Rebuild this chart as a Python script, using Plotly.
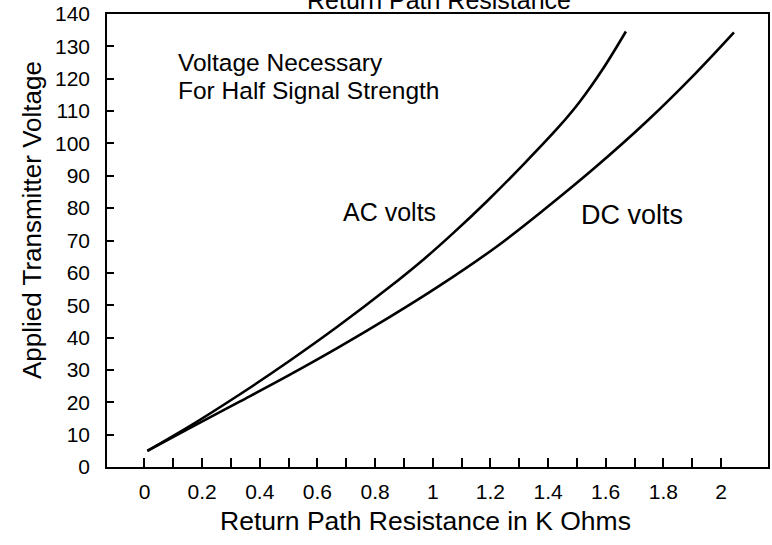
import plotly.graph_objects as go

# Data
ac_x = [0.01, 0.16, 0.33, 0.50, 0.67, 0.85, 0.97, 1.07, 1.19, 1.32, 1.44, 1.51, 1.59, 1.67]
ac_y = [5.0, 12.8, 22.4, 32.6, 43.4, 55.6, 64.3, 72.2, 82.3, 94.0, 105.4, 112.9, 123.0, 134.6]

dc_x = [0.01, 0.16, 0.33, 0.50, 0.67, 0.85, 1.02, 1.22, 1.39, 1.56, 1.74, 1.91, 2.045]
dc_y = [5.0, 12.2, 20.2, 28.3, 36.8, 46.3, 55.8, 68.0, 79.8, 92.3, 106.6, 121.5, 134.3]

x_tickvals = [0, 0.2, 0.4, 0.6, 0.8, 1.0, 1.2, 1.4, 1.6, 1.8, 2.0]
x_ticktext = ["0", "0.2", "0.4", "0.6", "0.8", "1", "1.2", "1.4", "1.6", "1.8", "2"]
x_minorvals = [0.1, 0.3, 0.5, 0.7, 0.9, 1.1, 1.3, 1.5, 1.7, 1.9]
y_tickvals = [0, 10, 20, 30, 40, 50, 60, 70, 80, 90, 100, 110, 120, 130, 140]
y_ticktext = [str(v) for v in y_tickvals]

FONT = "Liberation Sans, Arial, Helvetica, sans-serif"

fig = go.Figure()
fig.add_trace(go.Scatter(x=ac_x, y=ac_y, mode="lines", name="AC volts",
                         line=dict(color="black", width=2.6, shape="spline", smoothing=1.0)))
fig.add_trace(go.Scatter(x=dc_x, y=dc_y, mode="lines", name="DC volts",
                         line=dict(color="black", width=2.6, shape="spline", smoothing=1.0)))

fig.update_layout(
    width=772, height=545,
    margin=dict(l=107, r=2, t=14, b=78),
    paper_bgcolor="white", plot_bgcolor="white",
    showlegend=False,
    font=dict(family=FONT, color="black", size=21),
    xaxis=dict(
        range=[-0.13, 2.163], showgrid=False, zeroline=False,
        showline=True, mirror=True, linecolor="black", linewidth=1.6,
        tickmode="array", tickvals=x_tickvals, ticktext=x_ticktext,
        ticks="inside", ticklen=9, tickwidth=1.5, tickcolor="black",
        minor=dict(tickmode="array", tickvals=x_minorvals, ticks="inside",
                   ticklen=9, tickwidth=1.5, tickcolor="black", showgrid=False),
        tickfont=dict(size=21, family=FONT), ticklabelstandoff=5,
    ),
    yaxis=dict(
        range=[0, 140], showgrid=False, zeroline=False,
        showline=True, mirror=True, linecolor="black", linewidth=1.6,
        tickmode="array", tickvals=y_tickvals, ticktext=y_ticktext,
        ticks="inside", ticklen=7, tickwidth=1.5, tickcolor="black",
        tickfont=dict(size=21, family=FONT), ticklabelstandoff=11,
    ),
    annotations=[
        dict(text="Return Path Resistance", xref="paper", yref="paper",
             x=(440 - 107) / 663, y=1.03, xanchor="center", yanchor="middle",
             showarrow=False, font=dict(size=25, family=FONT)),
        dict(text="Return Path Resistance in K Ohms", xref="paper", yref="paper",
             x=(426.5 - 107) / 663, y=-0.12, xanchor="center", yanchor="middle",
             showarrow=False, font=dict(size=26.5, family=FONT)),
        dict(text="Applied Transmitter Voltage", xref="paper", yref="paper",
             x=-0.1136, y=0.545, xanchor="center", yanchor="middle", textangle=-90,
             showarrow=False, font=dict(size=26, family=FONT)),
        dict(text="Voltage Necessary", xref="x", yref="y", x=0.111, y=125.1,
             xanchor="left", yanchor="middle", showarrow=False,
             font=dict(size=24.5, family=FONT)),
        dict(text="For Half Signal Strength", xref="x", yref="y", x=0.111, y=116.4,
             xanchor="left", yanchor="middle", showarrow=False,
             font=dict(size=24.5, family=FONT)),
        dict(text="AC volts", xref="x", yref="y", x=0.681, y=78.7,
             xanchor="left", yanchor="middle", showarrow=False,
             font=dict(size=25, family=FONT)),
        dict(text="DC volts", xref="x", yref="y", x=1.508, y=77.9,
             xanchor="left", yanchor="middle", showarrow=False,
             font=dict(size=27, family=FONT)),
    ],
)

fig.write_html("out.html", config={"displayModeBar": False},
               post_script="document.body.style.margin='0';")
